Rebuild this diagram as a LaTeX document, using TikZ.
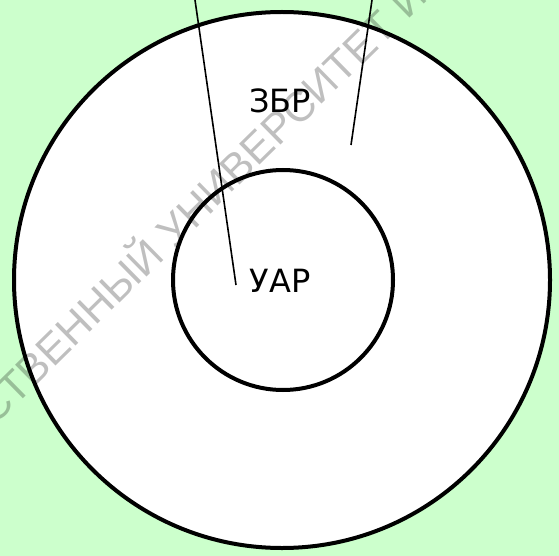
\documentclass[tikz,border=0pt]{standalone}
\usepackage{fontspec}
\setmainfont{DejaVu Sans}
\newfontfamily\stampfont{Liberation Sans}
\definecolor{FieldColor}{HTML}{CCFFCC}
\definecolor{StampColor}{HTML}{000000}
\tikzset{
  ring/.style={circle, draw=black, line width=4pt, inner sep=0pt},
  zonelabel/.style={font=\fontsize{32}{36}\selectfont, inner sep=2pt},
  leader/.style={line width=1.6pt},
  stamp/.style={font=\stampfont\fontsize{42.5}{46}\selectfont, text=StampColor,
    text opacity=0.25, inner sep=0pt}
}

\begin{document}
\begin{tikzpicture}[x=1pt, y=-1pt]
  \useasboundingbox (0,0) rectangle (559,556);
  \clip (0,0) rectangle (559,556);
  \fill[FieldColor] (0,0) rectangle (559,556);
  \fill[white] (282,280) circle[radius=268pt];
  \node[stamp, rotate=44.5, anchor=base west] (mark) at (-6,427) {СТВЕННЫЙ УНИВЕРСИТЕТ И};
  \node[ring, minimum size=536pt] (outer) at (282,280) {};
  \node[ring, minimum size=220pt] (inner) at (283,280) {};
  \node[zonelabel] (zbr) at (280,101) {ЗБР};
  \node[zonelabel] (uar) at (280,281) {УАР};
  \coordinate (top1) at (195,0);
  \coordinate (end1) at (236,285);
  \coordinate (top2) at (372,0);
  \coordinate (end2) at (351,145);
  \draw[leader] (top1) -- (end1);
  \draw[leader] (top2) -- (end2);
\end{tikzpicture}
\end{document}
